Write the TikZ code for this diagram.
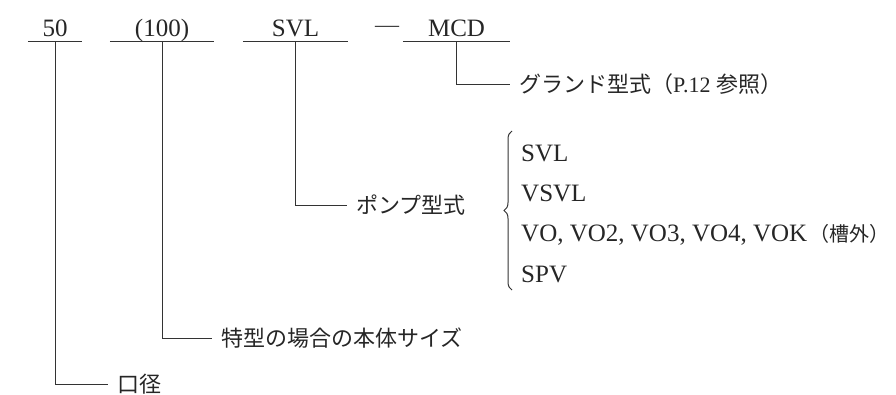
\documentclass[tikz,border=0pt]{standalone}
\usepackage{fontspec}
\setmainfont{Liberation Serif}
\newfontfamily\jp{Noto Sans CJK JP}
\usetikzlibrary{decorations.pathreplacing}
\begin{document}
\begin{tikzpicture}[x=1pt,y=-1pt,
  ln/.style={draw=black!80, line width=1pt},
  code/.style={anchor=base, inner sep=0pt, text depth=5pt, minimum width=#1, font=\fontsize{25}{25}\selectfont, text=black!85},
  jlab/.style={anchor=west, inner xsep=9pt, inner ysep=0pt, text height=19.4pt, text depth=2.6pt, font=\jp\fontsize{22}{22}\selectfont, text=black!85},
  item/.style={anchor=base west, inner sep=0pt, font=\fontsize{25}{25}\selectfont, text=black!85}]
\useasboundingbox (0,0) rectangle (896,394);
% top code row
\node[code=54pt] (c50) at (55,36) {50};
\node[code=104pt] (c100) at (162,36) {(100)};
\node[code=105pt] (csvl) at (295.5,36) {SVL};
\node[inner sep=0pt, font=\fontsize{24}{24}\selectfont, text=black!75] (dash) at (387,29) {—};
\node[code=107pt] (cmcd) at (456.5,36) {MCD};
\foreach \n in {c50,c100,csvl,cmcd}
  \draw[ln] (\n.south west) -- (\n.south east);
% labels
\node[jlab] (gland) at (510,84) {グランド型式（{\rmfamily P.12 }参照）};
\node[jlab] (pump) at (347,205) {ポンプ型式};
\node[jlab] (tokkei) at (212,338) {特型の場合の本体サイズ};
\node[jlab] (kokei) at (108,384) {口径};
% connectors
\draw[ln] (cmcd.south) |- (gland.west);
\draw[ln] (csvl.south) |- (pump.west);
\draw[ln] (c100.south) |- (tokkei.west);
\draw[ln] (c50.south) |- (kokei.west);
% brace and list
\coordinate (bbot) at (512,290);
\coordinate (btop) at (512,131);
\draw[ln, decorate, decoration={brace, amplitude=8pt}] (bbot) -- (btop);
\node[item] (i1) at (521,161) {SVL};
\node[item] (i2) at (521,201) {VSVL};
\node[item] (i3) at (521,241) {VO, VO2, VO3, VO4, VOK\hspace{2pt}{\jp\fontsize{20}{20}\selectfont （槽外）}};
\node[item] (i4) at (521,282) {SPV};
\end{tikzpicture}
\end{document}
